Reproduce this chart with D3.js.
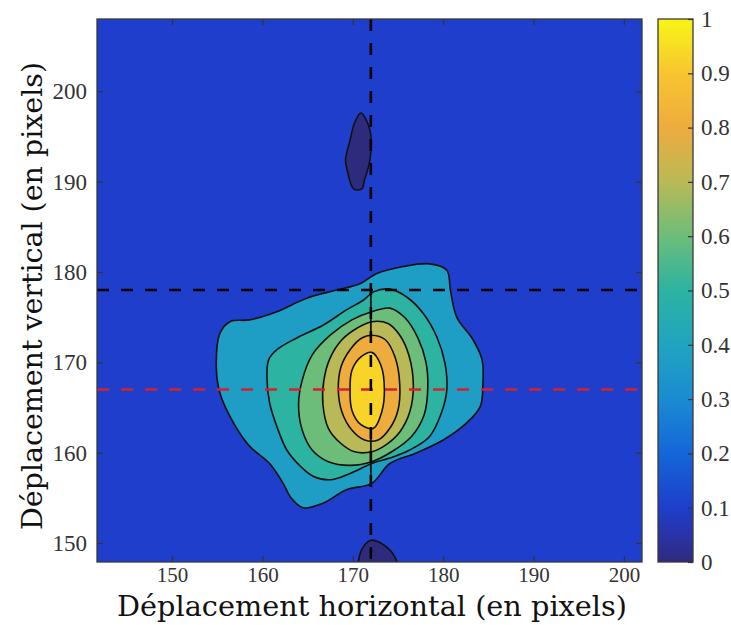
<!DOCTYPE html>
<html><head><meta charset="utf-8">
<script src="https://cdn.jsdelivr.net/npm/d3@7"></script>
<style>body{margin:0;background:#fff}svg{display:block}</style>
</head><body>
<svg id="chart" width="731" height="625"></svg>
<script>
// ---------- data ----------
const xDomain = [141.7, 202];
const yDomain = [147.9, 208];
const xTicks = [150, 160, 170, 180, 190, 200];
const yTicks = [150, 160, 170, 180, 190, 200];
const cbTicks = [0, 0.1, 0.2, 0.3, 0.4, 0.5, 0.6, 0.7, 0.8, 0.9, 1];
const cbTickLabels = ["0", "0.1", "0.2", "0.3", "0.4", "0.5", "0.6", "0.7", "0.8", "0.9", "1"];
const xLabel = "Déplacement horizontal (en pixels)";
const yLabel = "Déplacement vertical (en pixels)";
const vLineX = [172];
const hLineBlackY = [178];
const hLineRedY = [167];

// colormap stops (value, colour) as seen on the colour bar
const cmapValues = [0, 0.05, 0.1, 0.2, 0.3, 0.4, 0.5, 0.6, 0.7, 0.8, 0.9, 1];
const cmapColors = ["#2e2a7c", "#2a33a8", "#1e3ecb", "#1566d8", "#1a8bd2", "#20a4c0", "#2cb3a2", "#6dbd7a", "#b9b957", "#eeac3e", "#f8c530", "#f7f516"];

// contour levels (fill value of each region)
const backgroundLevel = 0.1;
const purpleLevel = 0.0;
const levels = [0.37, 0.5, 0.6, 0.7, 0.8, 0.93];

// contour outlines, data coordinates [x, y]
const contour1 = [[178.5,180.9],[180.4,180.2],[180.8,178.0],[181.5,175.0],[183.3,172.5],[184.3,170.3],[184.4,167.7],[184.1,165.1],[182.6,163.3],[180.0,161.4],[177.1,160.0],[174.1,158.8],[172.1,156.6],[169.3,155.9],[166.7,154.4],[164.5,153.9],[163.1,155.1],[162.3,156.6],[160.8,158.8],[158.6,160.7],[156.8,163.3],[155.3,166.6],[154.9,169.5],[155.3,173.2],[156.4,174.5],[158.6,174.7],[161.6,175.6],[164.9,177.1],[168.2,178.0],[170.8,178.7],[172.6,179.8],[175.6,180.6]];
const contour2 = [[160.5,168.4],[160.7,170.3],[161.6,171.4],[163.8,172.7],[166.7,174.1],[169.3,175.8],[171.2,176.9],[172.3,177.8],[174.1,178.1],[176.0,177.2],[177.8,175.4],[179.3,172.8],[180.2,169.9],[180.4,166.9],[179.8,164.4],[178.5,161.8],[176.3,160.3],[174.1,159.4],[172.1,158.8],[169.7,157.7],[167.5,157.0],[165.6,157.4],[164.2,158.5],[162.7,160.3],[161.6,162.9],[160.8,165.5]];
const contour3 = [[172.1,175.6],[174.1,176.0],[175.8,174.9],[177.2,172.7],[178.1,170.0],[178.3,167.2],[177.9,164.2],[176.5,161.8],[174.3,160.1],[172.1,159.0],[169.7,158.6],[167.3,159.0],[165.5,160.3],[164.4,162.5],[164.0,165.3],[164.4,168.0],[165.5,170.8],[167.5,173.0],[169.9,174.7]];
const contour4 = [[172.1,174.5],[173.9,174.3],[175.2,173.0],[176.2,170.8],[176.7,167.5],[176.3,164.5],[175.2,162.3],[173.7,160.9],[172.1,160.1],[170.2,160.1],[168.6,161.1],[167.3,162.7],[166.7,165.3],[166.8,168.0],[167.5,170.5],[168.8,172.5],[170.5,173.8]];
const contour5 = [[172.1,173.0],[173.6,172.5],[174.7,170.5],[175.2,167.5],[175.0,164.7],[174.1,162.7],[172.8,161.4],[171.3,161.4],[169.9,162.5],[168.8,164.5],[168.4,166.9],[168.7,169.5],[169.7,171.4],[171.0,172.7]];
const contour6 = [[172.1,171.1],[173.1,169.7],[173.5,166.9],[173.2,164.5],[172.3,162.7],[170.9,163.1],[169.9,164.7],[169.7,166.9],[169.9,169.1],[170.9,170.6]];
const purpleTop = [[170.9,197.6],[171.9,195.7],[171.9,192.4],[171.3,190.2],[171.0,189.2],[170.1,189.2],[169.4,191.2],[169.2,192.4],[169.7,194.6],[170.2,196.5]];
const purpleBottom = [[170.4,147.0],[170.6,147.9],[171.0,149.3],[172.0,150.3],[173.1,150.0],[174.3,149.0],[174.9,147.9],[175.1,147.0]];
// contour seam along x = 172 (where left and right halves of the levels meet): [x, yFrom, yTo]
const seamSegments = [[172, 172.9, 178.2], [172, 156.6, 161.6]];

// ---------- drawing ----------
const svg = d3.select("#chart");
const M = {left: 97, right: 642, top: 19, bottom: 562};
const x = d3.scaleLinear().domain(xDomain).range([M.left, M.right]);
const y = d3.scaleLinear().domain(yDomain).range([M.bottom, M.top]);
const cmap = d3.scaleLinear().domain(cmapValues).range(cmapColors).interpolate(d3.interpolateRgb);

svg.append("defs").append("clipPath").attr("id", "plotclip")
  .append("rect").attr("x", M.left).attr("y", M.top)
  .attr("width", M.right - M.left).attr("height", M.bottom - M.top);

const g = svg.append("g").attr("clip-path", "url(#plotclip)");
g.append("rect").attr("x", M.left).attr("y", M.top)
  .attr("width", M.right - M.left).attr("height", M.bottom - M.top)
  .attr("fill", cmap(backgroundLevel));

const smooth = d3.line().x(d => x(d[0])).y(d => y(d[1])).curve(d3.curveCatmullRomClosed.alpha(0.5));
const shapes = [
  {pts: purpleTop, v: purpleLevel},
  {pts: purpleBottom, v: purpleLevel},
  {pts: contour1, v: levels[0]},
  {pts: contour2, v: levels[1]},
  {pts: contour3, v: levels[2]},
  {pts: contour4, v: levels[3]},
  {pts: contour5, v: levels[4]},
  {pts: contour6, v: levels[5]}
];
g.selectAll("path.ct").data(shapes).enter().append("path")
  .attr("class", "ct")
  .attr("d", d => smooth(d.pts))
  .attr("fill", d => cmap(d.v))
  .attr("stroke", "#111")
  .attr("stroke-width", 1.6)
  .attr("stroke-linejoin", "round");
g.selectAll("line.seam").data(seamSegments).enter().append("line")
  .attr("x1", d => x(d[0])).attr("x2", d => x(d[0])).attr("y1", d => y(d[1])).attr("y2", d => y(d[2]))
  .attr("stroke", "#111").attr("stroke-width", 1.8);

// reference dashed lines
g.selectAll("line.hb").data(hLineBlackY).enter().append("line")
  .attr("x1", M.left).attr("x2", M.right).attr("y1", d => y(d)).attr("y2", d => y(d))
  .attr("stroke", "#000").attr("stroke-width", 2.6).attr("stroke-dasharray", "12,12");
g.selectAll("line.hr").data(hLineRedY).enter().append("line")
  .attr("x1", M.left).attr("x2", M.right).attr("y1", d => y(d)).attr("y2", d => y(d))
  .attr("stroke", "#d8202c").attr("stroke-width", 2.6).attr("stroke-dasharray", "12,12");
g.selectAll("line.v").data(vLineX).enter().append("line")
  .attr("y1", M.top).attr("y2", M.bottom).attr("x1", d => x(d)).attr("x2", d => x(d))
  .attr("stroke", "#000").attr("stroke-width", 2.6).attr("stroke-dasharray", "12,12");

// axes (inward ticks, box)
const tickColor = "#333";
const fontTick = "'Liberation Serif', 'Times New Roman', serif";
const axB = svg.append("g").attr("transform", `translate(0,${M.bottom})`)
  .call(d3.axisBottom(x).tickValues(xTicks).tickSize(-6).tickPadding(5).tickFormat(d3.format("d")));
const axT = svg.append("g").attr("transform", `translate(0,${M.top})`)
  .call(d3.axisTop(x).tickValues(xTicks).tickSize(-6).tickFormat(""));
const axL = svg.append("g").attr("transform", `translate(${M.left},0)`)
  .call(d3.axisLeft(y).tickValues(yTicks).tickSize(-6).tickPadding(10).tickFormat(d3.format("d")));
const axR = svg.append("g").attr("transform", `translate(${M.right},0)`)
  .call(d3.axisRight(y).tickValues(yTicks).tickSize(-6).tickFormat(""));
[axB, axT, axL, axR].forEach(a => {
  a.select(".domain").remove();
  a.selectAll(".tick line").attr("stroke", tickColor).attr("stroke-width", 1.2);
  a.selectAll(".tick text").attr("fill", "#333").style("font-family", fontTick).style("font-size", "23px");
});
axB.selectAll(".tick text").style("font-size", "21px");
svg.append("rect").attr("x", M.left).attr("y", M.top)
  .attr("width", M.right - M.left).attr("height", M.bottom - M.top)
  .attr("fill", "none").attr("stroke", "#3a3a3a").attr("stroke-width", 1.3);

// axis titles
const fontTitle = "'DejaVu Serif', serif";
svg.append("text").attr("x", 372).attr("y", 616).attr("text-anchor", "middle")
  .style("font-family", fontTitle).style("font-size", "27px").attr("fill", "#111")
  .attr("textLength", 510).attr("lengthAdjust", "spacingAndGlyphs").text(xLabel);
svg.append("text").attr("transform", "translate(42,296) rotate(-90)").attr("text-anchor", "middle")
  .style("font-family", fontTitle).style("font-size", "28px").attr("fill", "#111")
  .attr("textLength", 468).attr("lengthAdjust", "spacingAndGlyphs").text(yLabel);

// colour bar
const CB = {x: 658, w: 35, top: 19, bottom: 562};
const cy = d3.scaleLinear().domain([0, 1]).range([CB.bottom, CB.top]);
const grad = svg.select("defs").append("linearGradient").attr("id", "cbgrad")
  .attr("x1", 0).attr("y1", 1).attr("x2", 0).attr("y2", 0);
grad.selectAll("stop").data(cmapValues).enter().append("stop")
  .attr("offset", d => d).attr("stop-color", (d, i) => cmapColors[i]);
svg.append("rect").attr("x", CB.x).attr("y", CB.top).attr("width", CB.w).attr("height", CB.bottom - CB.top)
  .attr("fill", "url(#cbgrad)").attr("stroke", "#3a3a3a").attr("stroke-width", 1.3);
const axC = svg.append("g").attr("transform", `translate(${CB.x + CB.w},0)`)
  .call(d3.axisRight(cy).tickValues(cbTicks).tickSize(-5).tickPadding(8).tickFormat((d, i) => cbTickLabels[i]));
axC.select(".domain").remove();
axC.selectAll(".tick line").attr("stroke", tickColor).attr("stroke-width", 1.2);
axC.selectAll(".tick text").attr("fill", "#333").style("font-family", fontTick).style("font-size", "23px");
</script>
</body></html>
